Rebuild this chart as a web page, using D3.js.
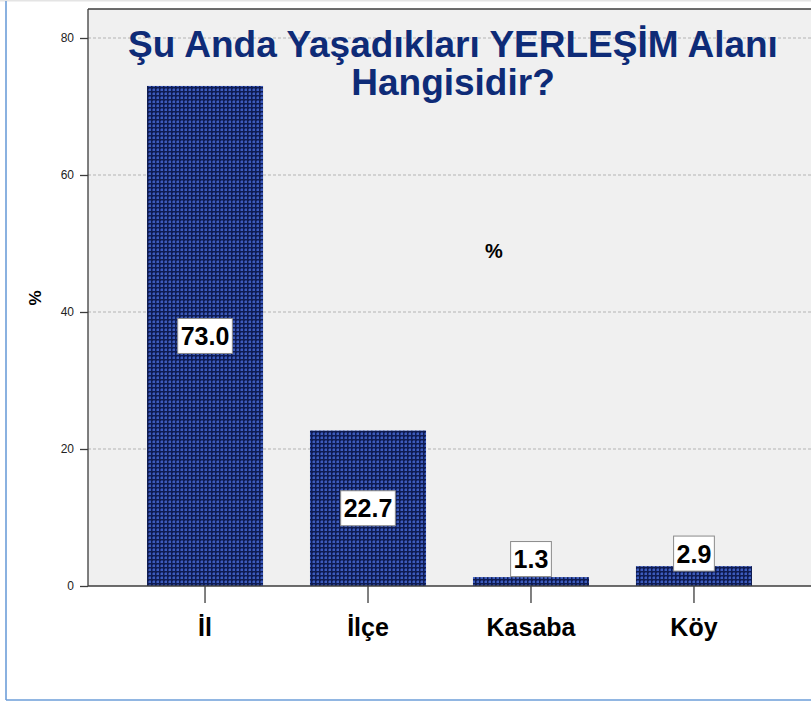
<!DOCTYPE html>
<html><head><meta charset="utf-8">
<script src="https://cdn.jsdelivr.net/npm/d3@7"></script>
<style>body{margin:0;background:#fff}svg{display:block}text{font-family:"Liberation Sans",Arial,sans-serif}</style>
</head><body>
<script>
const categories = ["İl", "İlçe", "Kasaba", "Köy"];
const values = [73.0, 22.7, 1.3, 2.9];
const yTicks = [0, 20, 40, 60, 80];
const titleLines = ["Şu Anda Yaşadıkları YERLEŞİM Alanı", "Hangisidir?"];

const W = 811, H = 704;
const svg = d3.select("body").append("svg").attr("width", W).attr("height", H);

// outer frame
svg.append("rect").attr("x",0).attr("y",0).attr("width",W).attr("height",1.5).attr("fill","#e4e4e4");
svg.append("line").attr("x1",6).attr("x2",6).attr("y1",1).attr("y2",700).attr("stroke","#6d9ed9").attr("stroke-width",1.6);
svg.append("line").attr("x1",6).attr("x2",W).attr("y1",700).attr("y2",700).attr("stroke","#6d9ed9").attr("stroke-width",1.6);

const plot = {left: 88, right: 811, top: 9, bottom: 586};
const x = d3.scaleBand().domain(categories).range([plot.left, plot.right]).paddingInner(0.288).paddingOuter(0.362);
const y = d3.scaleLinear().domain([0, 80]).range([plot.bottom, 38]);

// pattern
const defs = svg.append("defs");
const pat = defs.append("pattern").attr("id","chk").attr("patternUnits","userSpaceOnUse").attr("width",4).attr("height",4);
pat.append("rect").attr("width",4).attr("height",4).attr("fill","#0f1c52");
pat.append("rect").attr("x",1).attr("y",1).attr("width",2).attr("height",2).attr("fill","#3d5cbc");
pat.append("rect").attr("x",0).attr("y",1).attr("width",1).attr("height",2).attr("fill","#243a8a");
pat.append("rect").attr("x",1).attr("y",0).attr("width",2).attr("height",1).attr("fill","#243a8a");

// plot background
svg.append("rect").attr("x",plot.left).attr("y",plot.top).attr("width",plot.right-plot.left).attr("height",plot.bottom-plot.top).attr("fill","#f0f0f0");

// gridlines
svg.append("g").selectAll("line").data(yTicks.filter(d=>d>0)).join("line")
  .attr("x1",plot.left).attr("x2",plot.right).attr("y1",d=>y(d)).attr("y2",d=>y(d))
  .attr("stroke","#b4b4b4").attr("stroke-dasharray","3,2").attr("stroke-width",1);

// title
const title = svg.append("text").attr("text-anchor","middle").attr("fill","#0e2b77")
  .attr("font-weight","bold").attr("font-size",37);
title.selectAll("tspan").data(titleLines).join("tspan").attr("x",453).attr("y",(d,i)=>57+i*38).text(d=>d);

// bars
svg.append("g").selectAll("rect").data(values).join("rect")
  .attr("x",(d,i)=>x(categories[i])).attr("width",x.bandwidth())
  .attr("y",d=>y(d)).attr("height",d=>y(0)-y(d))
  .attr("fill","url(#chk)");

// axes lines
svg.append("line").attr("x1",plot.left).attr("x2",plot.right).attr("y1",plot.top).attr("y2",plot.top).attr("stroke","#3c3c3c").attr("stroke-width",1.3);
const yAxis = d3.axisLeft(y).tickValues(yTicks).tickSize(8).tickPadding(6).tickSizeOuter(0);
const gy = svg.append("g").attr("transform",`translate(${plot.left},0)`).call(yAxis);
gy.select(".domain").remove();
gy.append("line").attr("x1",0).attr("x2",0).attr("y1",plot.top).attr("y2",plot.bottom).attr("stroke","#3c3c3c").attr("stroke-width",1.3);
gy.selectAll(".tick line").attr("stroke","#3c3c3c").attr("stroke-width",1.3);
gy.selectAll(".tick text").attr("font-size",12).attr("fill","#222").attr("font-family","Liberation Sans, Arial, sans-serif");

const xAxis = d3.axisBottom(x).tickSize(17).tickPadding(8).tickSizeOuter(0);
const gx = svg.append("g").attr("transform",`translate(0,${plot.bottom})`).call(xAxis);
gx.select(".domain").remove();
gx.append("line").attr("x1",plot.left).attr("x2",plot.right).attr("y1",0).attr("y2",0).attr("stroke","#3c3c3c").attr("stroke-width",1.5);
gx.selectAll(".tick line").attr("stroke","#3c3c3c").attr("stroke-width",1.3);
gx.selectAll(".tick text").attr("font-size",25).attr("font-weight","bold").attr("fill","#000")
  .attr("font-family","Liberation Sans, Arial, sans-serif").attr("dy",null).attr("y",50);

// y title
svg.append("text").attr("transform","translate(41,298) rotate(-90)").attr("text-anchor","middle")
  .attr("font-weight","bold").attr("font-size",17).text("%");
// middle %
svg.append("text").attr("x",494).attr("y",258).attr("text-anchor","middle")
  .attr("font-weight","bold").attr("font-size",20).text("%");

// value labels
const boxH = 35;
const lbl = svg.append("g").selectAll("g").data(values).join("g");
lbl.each(function(d,i){
  const g = d3.select(this);
  const cx = x(categories[i]) + x.bandwidth()/2;
  const mid = (y(d)+y(0))/2;
  const barH = y(0)-y(d);
  let cy = barH > boxH + 4 ? mid : mid - 5 - boxH/2;
  const t = g.append("text").attr("x",cx).attr("y",cy+9).attr("text-anchor","middle")
    .attr("font-weight","bold").attr("font-size",25).attr("fill","#000").text(d.toFixed(1));
  const bw = t.node().getComputedTextLength() + 6;
  g.insert("rect","text").attr("x",cx-bw/2).attr("y",cy-boxH/2).attr("width",bw).attr("height",boxH)
    .attr("fill","#fff").attr("stroke","#8a8a8a").attr("stroke-width",1);
});
</script>
</body></html>
